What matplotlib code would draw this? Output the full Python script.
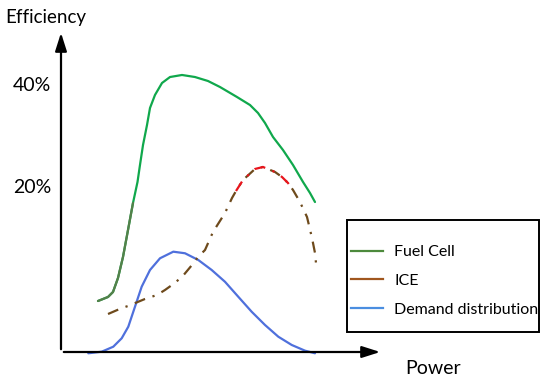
import matplotlib.pyplot as plt
from matplotlib.lines import Line2D
from matplotlib.patches import Rectangle

plt.rcParams['font.family'] = ['Lato', 'DejaVu Sans']

# schematic curves (power in arbitrary units, efficiency in %)
fc_power = [1.149, 1.460, 1.615, 1.770, 1.925, 2.081, 2.236, 2.376, 2.453, 2.547, 2.671, 2.764, 2.919,
            3.137, 3.385, 3.758, 4.161, 4.565, 4.938, 5.466, 5.870, 6.118, 6.335, 6.584, 6.894, 7.205,
            7.516, 7.733, 7.888]
fc_eff = [-2.16, -1.37, -0.39, 2.35, 6.47, 11.76, 17.06, 21.18, 24.51, 28.43, 32.35, 35.69, 38.24,
          40.59, 41.76, 42.16, 41.76, 40.98, 39.80, 37.84, 36.27, 34.71, 32.75, 30.00, 27.45, 24.51,
          21.18, 19.02, 17.25]

ice_power = [1.460, 1.894, 2.081, 2.609, 2.981, 3.230, 3.447, 3.758, 4.068, 4.255, 4.472, 4.720, 5.093,
             5.311, 5.435, 5.652, 6.025, 6.273, 6.646, 6.863, 7.050, 7.205, 7.422, 7.640, 7.795, 7.888,
             7.919]
ice_eff = [-4.71, -3.53, -3.14, -1.76, -0.98, 0.00, 0.98, 2.55, 4.90, 6.47, 7.84, 11.37, 15.10, 18.04,
           19.41, 21.57, 23.73, 24.12, 23.14, 22.16, 20.98, 19.61, 17.25, 14.31, 10.20, 7.25, 5.29]

dem_power = [0.848, 1.264, 1.624, 1.885, 2.090, 2.298, 2.506, 2.764, 3.075, 3.488, 3.851, 4.264, 4.680,
             5.093, 5.506, 5.922, 6.335, 6.749, 7.165, 7.578, 7.888]
dem_val = [-12.41, -12.10, -11.12, -9.47, -7.20, -3.27, 0.65, 3.92, 6.22, 7.51, 7.20, 5.88, 3.92, 1.61,
           -1.33, -4.27, -6.86, -9.16, -10.78, -11.90, -12.41]

yticks = [20, 40]
ytick_labels = ['20%', '40%']
labels = ['Fuel Cell', 'ICE', 'Demand distribution']

W, H = 550, 382
fig = plt.figure(figsize=(W / 100, H / 100), dpi=100)
ax = fig.add_axes([61 / W, (H - 352) / H, (383 - 61) / W, (352 - 30) / H])
ax.set_xlim(0, 10)
ax.set_ylim(-12.16, 50.98)
for s in ax.spines.values():
    s.set_visible(False)
ax.set_xticks([])
ax.set_yticks([])

kw = dict(lw=1.6, clip_on=False, solid_joinstyle='round', solid_capstyle='round')
ax.plot(fc_power, fc_eff, color='#10a84c', **kw)
ax.plot(fc_power[:7], fc_eff[:7], color='#55804a', **kw)
ax.plot(dem_power, dem_val, color='#4f70dc', **kw)
dash = (0, (5, 3.5, 1, 3.5))
ax.plot(ice_power, ice_eff, color='#6e4a1c', lw=1.6, ls=dash, clip_on=False)
ax.plot(ice_power[14:22], ice_eff[14:22], color='#e8141c', lw=1.6, ls=dash, clip_on=False)

# axis arrows
ax.annotate('', xy=(0, 1), xytext=(0, 0), xycoords='axes fraction',
            arrowprops=dict(arrowstyle='-|>,head_width=0.35,head_length=1.1', color='black', lw=1.6))
ax.annotate('', xy=(1, 0), xytext=(0, 0), xycoords='axes fraction',
            arrowprops=dict(arrowstyle='-|>,head_width=0.35,head_length=1.1', color='black', lw=1.6))

for v, t in zip(yticks, ytick_labels):
    ax.text(-0.09, v, t, transform=ax.get_yaxis_transform(), ha='center', va='center', fontsize=14)
fig.text(5 / W, 1 - 18 / H, 'Efficiency', ha='left', va='center', fontsize=13.5)
fig.text(405 / W, 1 - 368 / H, 'Power', ha='left', va='center', fontsize=14)

# legend box
fig.patches.append(Rectangle((347 / W, (H - 332) / H), 192 / W, 112 / H, transform=fig.transFigure,
                             fill=False, ec='black', lw=1.4))
handles = [Line2D([], [], color='#4d8a3c', lw=1.6),
           Line2D([], [], color='#a0561e', lw=1.6),
           Line2D([], [], color='#4a8ee0', lw=1.6)]
fig.legend(handles, labels, loc='upper left', bbox_to_anchor=(351 / W, 1 - 245 / H),
           frameon=False, fontsize=11.5, handlelength=2.0, handletextpad=0.7,
           labelspacing=0.92, borderpad=0, borderaxespad=0)

fig.savefig('out.png', dpi=100)
